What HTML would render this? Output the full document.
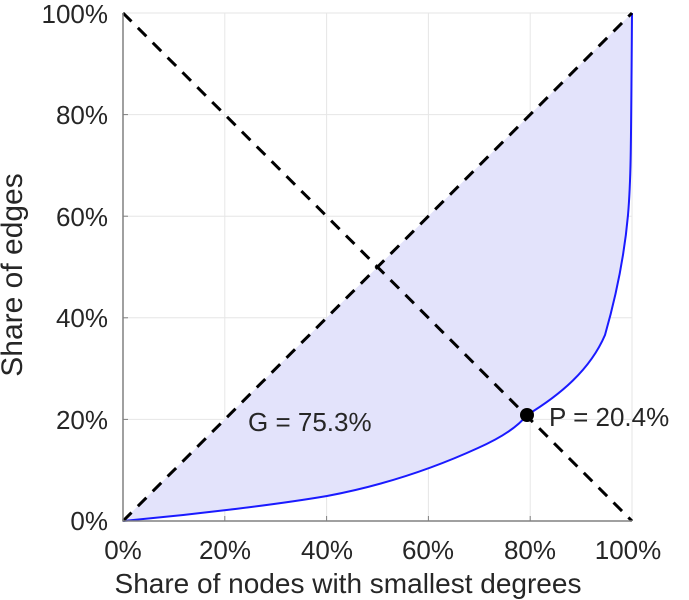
<!DOCTYPE html>
<html><head><meta charset="utf-8"><style>body{margin:0;background:#fff}svg{display:block}text{font-family:"Liberation Sans",sans-serif;fill:#262626}</style></head><body>
<svg width="689" height="600" viewBox="0 0 689 600">
<g stroke="#e6e6e6" stroke-width="1">
<line x1="224.8" y1="13" x2="224.8" y2="521"/><line x1="326.6" y1="13" x2="326.6" y2="521"/><line x1="428.4" y1="13" x2="428.4" y2="521"/><line x1="530.2" y1="13" x2="530.2" y2="521"/><line x1="632" y1="13" x2="632" y2="521"/>
<line x1="123" y1="13" x2="632" y2="13"/><line x1="123" y1="114.6" x2="632" y2="114.6"/><line x1="123" y1="216.2" x2="632" y2="216.2"/><line x1="123" y1="317.8" x2="632" y2="317.8"/><line x1="123" y1="419.4" x2="632" y2="419.4"/>
</g>
<path d="M123,521 C200,514 280,504 327,496 C380,486 430,470 478,448 C505,436 520,424 527,415 C560,395 590,370 605,335 C615,300 624,260 628,215 C631,180 631,150 632,13" fill="#e3e3fb" stroke="none"/>
<path d="M123,521 C200,514 280,504 327,496 C380,486 430,470 478,448 C505,436 520,424 527,415 C560,395 590,370 605,335 C615,300 624,260 628,215 C631,180 631,150 632,13" fill="none" stroke="#1a1aff" stroke-width="2"/>
<g stroke="#000" stroke-width="3" stroke-dasharray="12,9"><line x1="123" y1="521" x2="632" y2="13"/><line x1="123" y1="13" x2="632" y2="521"/></g>
<g stroke="#808080" stroke-width="1.5" fill="none"><path d="M123,13 V521 H632"/></g>
<g stroke="#808080" stroke-width="1"><line x1="123" y1="114.6" x2="128" y2="114.6"/><line x1="123" y1="216.2" x2="128" y2="216.2"/><line x1="123" y1="317.8" x2="128" y2="317.8"/><line x1="123" y1="419.4" x2="128" y2="419.4"/>
<line x1="224.8" y1="521" x2="224.8" y2="516"/><line x1="326.6" y1="521" x2="326.6" y2="516"/><line x1="428.4" y1="521" x2="428.4" y2="516"/><line x1="530.2" y1="521" x2="530.2" y2="516"/></g>
<circle cx="527" cy="415" r="7" fill="#000"/>
<g font-size="26" text-anchor="end"><text x="108" y="23">100%</text><text x="108" y="124">80%</text><text x="108" y="226">60%</text><text x="108" y="327">40%</text><text x="108" y="429">20%</text><text x="108" y="530">0%</text></g>
<g font-size="26" text-anchor="middle"><text x="123" y="559">0%</text><text x="225" y="559">20%</text><text x="327" y="559">40%</text><text x="428" y="559">60%</text><text x="530" y="559">80%</text><text x="628" y="559">100%</text></g>
<text x="348" y="593" font-size="28" text-anchor="middle">Share of nodes with smallest degrees</text>
<text transform="translate(22,275) rotate(-90)" font-size="30" text-anchor="middle">Share of edges</text>
<text x="248" y="431" font-size="26">G = 75.3%</text>
<text x="549" y="426" font-size="26">P = 20.4%</text>
</svg></body></html>
